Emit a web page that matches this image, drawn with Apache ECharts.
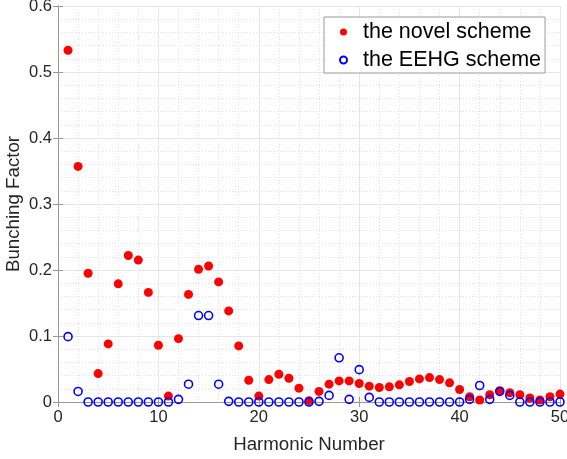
<!DOCTYPE html>
<html>
<head>
<meta charset="utf-8">
<script src="https://cdn.jsdelivr.net/npm/echarts@6/dist/echarts.min.js"></script>
<style>
  html, body { margin: 0; padding: 0; background: #fff; }
  #chart { width: 567px; height: 459px; }
</style>
</head>
<body>
<div id="chart"></div>
<script>
// harmonic numbers 1..50
const harmonics = [
  1, 2, 3, 4, 5, 6, 7, 8, 9, 10,
  11, 12, 13, 14, 15, 16, 17, 18, 19, 20,
  21, 22, 23, 24, 25, 26, 27, 28, 29, 30,
  31, 32, 33, 34, 35, 36, 37, 38, 39, 40,
  41, 42, 43, 44, 45, 46, 47, 48, 49, 50
]

// bunching factor
const novelScheme = [
  0.533, 0.357, 0.195, 0.043, 0.088, 0.179, 0.222, 0.215, 0.166, 0.086,
  0.009, 0.096, 0.163, 0.201, 0.206, 0.182, 0.138, 0.085, 0.033, 0.009,
  0.034, 0.042, 0.036, 0.021, 0.002, 0.016, 0.027, 0.032, 0.032, 0.028,
  0.024, 0.022, 0.023, 0.026, 0.031, 0.035, 0.037, 0.034, 0.029, 0.019,
  0.008, 0.003, 0.011, 0.017, 0.014, 0.011, 0.006, 0.003, 0.008, 0.012
]

const eehgScheme = [
  0.099, 0.016, 0, 0, 0, 0, 0, 0, 0, 0,
  0, 0.004, 0.027, 0.131, 0.131, 0.027, 0.001, 0, 0, 0,
  0, 0, 0, 0, 0, 0.001, 0.010, 0.067, 0.004, 0.049,
  0.007, 0, 0, 0, 0, 0, 0, 0, 0, 0,
  0.004, 0.025, 0.004, 0.016, 0.010, 0, 0, 0, 0, 0
]

const seriesNames = ['the novel scheme', 'the EEHG scheme']

const font = 'Arial, "Liberation Sans", sans-serif'
const textColor = '#262626'
const boxColor = '#999999'

function pairs(ys) {
  return harmonics.map((x, i) => [x, ys[i]])
}

const chart = echarts.init(document.getElementById('chart'))

const gridLines = {
  splitLine: { show: true, lineStyle: { color: '#e6e6e6', width: 1 } },
  minorTick: { show: true, splitNumber: 5, length: 0 },
  minorSplitLine: { show: true, lineStyle: { color: '#e2e2e2', type: [1, 2], width: 1 } }
}

chart.setOption({
  animation: false,
  grid: { left: 58, right: 7, top: 6, bottom: 57, containLabel: false, outerBoundsMode: 'none' },
  legend: {
    orient: 'vertical',
    left: 324,
    top: 17,
    data: seriesNames,
    itemWidth: 7,
    itemHeight: 7,
    itemGap: 4,
    padding: [3, 4, 1, 15],
    borderColor: boxColor,
    borderWidth: 1,
    backgroundColor: '#fff',
    textStyle: { fontFamily: font, fontSize: 21.5, color: '#000', lineHeight: 24, padding: [0, 0, 0, 11] }
  },
  xAxis: [{
    type: 'value',
    min: 0,
    max: 50,
    interval: 10,
    name: 'Harmonic Number',
    nameLocation: 'middle',
    nameGap: 33,
    nameMoveOverlap: false,
    nameTextStyle: { fontFamily: font, fontSize: 18.7, color: textColor },
    axisLine: { show: true, onZero: false, lineStyle: { color: boxColor } },
    axisTick: { show: true, inside: true, length: 5, lineStyle: { color: boxColor } },
    axisLabel: { fontFamily: font, fontSize: 16.5, color: textColor, margin: 7 },
    ...gridLines
  }, {
    type: 'value',
    position: 'top',
    min: 0,
    max: 50,
    interval: 10,
    axisLine: { show: true, lineStyle: { color: boxColor } },
    axisTick: { show: true, inside: true, length: 5, lineStyle: { color: boxColor } },
    axisLabel: { show: false },
    splitLine: { show: false }
  }],
  yAxis: [{
    type: 'value',
    min: 0,
    max: 0.6,
    interval: 0.1,
    name: 'Bunching Factor',
    nameLocation: 'middle',
    nameGap: 35,
    nameMoveOverlap: false,
    nameTextStyle: { fontFamily: font, fontSize: 18.7, color: textColor },
    axisLine: { show: true, onZero: false, lineStyle: { color: boxColor } },
    axisTick: { show: true, inside: true, length: 5, lineStyle: { color: boxColor } },
    axisLabel: { fontFamily: font, fontSize: 16.5, color: textColor, margin: 6 },
    ...gridLines
  }, {
    type: 'value',
    position: 'right',
    min: 0,
    max: 0.6,
    interval: 0.1,
    axisLine: { show: true, lineStyle: { color: boxColor } },
    axisTick: { show: true, inside: true, length: 5, lineStyle: { color: boxColor } },
    axisLabel: { show: false },
    splitLine: { show: false }
  }],
  series: [{
    name: seriesNames[0],
    type: 'scatter',
    symbol: 'circle',
    symbolSize: 9,
    itemStyle: { color: '#ff0000', opacity: 1 },
    data: pairs(novelScheme)
  }, {
    name: seriesNames[1],
    type: 'scatter',
    symbol: 'circle',
    symbolSize: 8,
    itemStyle: { color: 'rgba(0,0,0,0)', borderColor: '#0000ff', borderWidth: 1.6, opacity: 1 },
    data: pairs(eehgScheme)
  }]
})
</script>
</body>
</html>
